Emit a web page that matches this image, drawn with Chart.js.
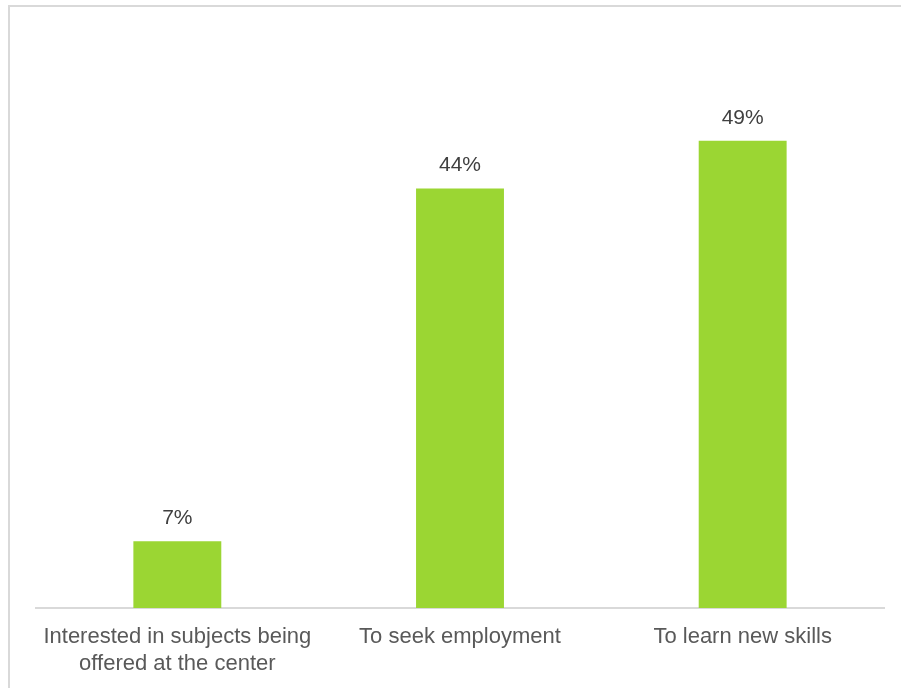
<!DOCTYPE html>
<html>
<head>
<meta charset="utf-8">
<script src="https://cdn.jsdelivr.net/npm/chart.js@4/dist/chart.umd.min.js"></script>
<style>
    html, body { margin: 0; padding: 0; background: #fff; overflow: hidden; }
    .frame {
        position: absolute; left: 8px; top: 5px; width: 920px; height: 720px;
        border: 2px solid #d9d9d9; box-sizing: border-box;
    }
    .wrap { position: absolute; left: 0; top: 0; width: 901px; height: 688px; }
</style>
</head>
<body>
<div class="frame"></div>
<div class="wrap"><canvas id="reasonsChart" width="901" height="688"></canvas></div>
<script>
(function () {
    'use strict';

    const categories = [
        ['Interested in subjects being', 'offered at the center'],
        'To seek employment',
        'To learn new skills'
    ];
    const shares = [7, 44, 49];
    const valueLabels = ['7%', '44%', '49%'];

    const barColor = '#9bd633';
    const textColor = '#595959';
    const fontFamily = 'Arial, "Liberation Sans", sans-serif';

    // prints the percentage above each bar
    const barValues = {
        id: 'barValues',
        afterDatasetsDraw(chart) {
            const ctx = chart.ctx;
            const meta = chart.getDatasetMeta(0);
            ctx.save();
            ctx.font = '21px ' + fontFamily;
            ctx.fillStyle = '#404040';
            ctx.textAlign = 'center';
            ctx.textBaseline = 'middle';
            meta.data.forEach((bar, i) => {
                ctx.fillText(valueLabels[i], bar.x, bar.y - 23);
            });
            ctx.restore();
        }
    };

    new Chart(document.getElementById('reasonsChart'), {
        type: 'bar',
        data: {
            labels: categories,
            datasets: [{
                data: shares,
                backgroundColor: barColor,
                borderWidth: 0,
                categoryPercentage: 1,
                barPercentage: 0.311
            }]
        },
        options: {
            responsive: false,
            animation: false,
            layout: { padding: { left: 36, right: 17, top: 36, bottom: 0 } },
            plugins: {
                legend: { display: false },
                tooltip: { enabled: false }
            },
            scales: {
                x: {
                    grid: { display: false, drawTicks: false },
                    border: { display: true, color: '#d9d9d9', width: 2 },
                    ticks: {
                        color: textColor,
                        font: { family: fontFamily, size: 22, lineHeight: 1.2 },
                        padding: 16,
                        maxRotation: 0,
                        autoSkip: false
                    },
                    afterFit(scale) { scale.height = 80; }
                },
                y: {
                    display: false,
                    min: 0,
                    max: 60
                }
            }
        },
        plugins: [barValues]
    });
})();
</script>
</body>
</html>
